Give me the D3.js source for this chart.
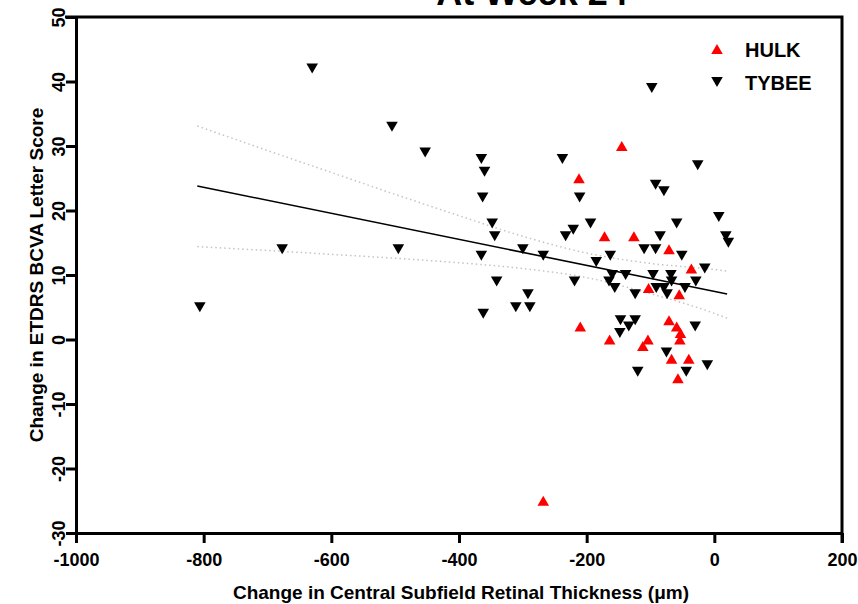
<!DOCTYPE html>
<html>
<head>
<meta charset="utf-8">
<script src="https://cdn.jsdelivr.net/npm/d3@7"></script>
<style>
  body { margin: 0; background: #fff; }
  text { font-family: "Liberation Sans", Arial, sans-serif; font-weight: bold; }
</style>
</head>
<body>
<div id="chart"></div>
<script>
// HULK points (change in CST, change in BCVA)
const hulkX = [-145, -212, -172, -126, -71, -36, -103, -55, -71, -210, -59, -53, -164, -104, -54, -112, -67, -40, -57, -268];
const hulkY = [30, 25, 16, 16, 14, 11, 8, 7, 3, 2, 2, 1, 0, 0, 0, -1, -3, -3, -6, -25];

// TYBEE points
const tybeeX = [-806, -677, -630, -505, -495, -453, -365, -360, -363, -348, -344, -365, -362, -341, -300, -292, -311, -289,
  -268, -238, -233, -221, -211, -219, -194, -185, -163, -160, -165, -156, -147, -148, -139, -134, -124, -124, -120,
  -110, -98, -96, -92, -92, -91, -85, -79, -79, -75, -74, -68, -67, -59, -51, -46, -44, -29, -30, -26, -15, -11, 7, 18, 22];
const tybeeY = [5, 14, 42, 33, 14, 29, 28, 26, 22, 18, 16, 13, 4, 9, 14, 7, 5, 5,
  13, 28, 16, 17, 22, 9, 18, 12, 13, 10, 9, 8, 3, 1, 10, 2, 7, 3, -5,
  14, 39, 10, 24, 14, 8, 16, 23, 8, -2, 7, 10, 9, 18, 13, 8, -5, 9, 2, 27, 11, -4, 19, 16, 15];

// regression line and 95% band
const fitX = [-810, 20];
const fitY = [23.8, 7.05];
const bandX = [-810, -700, -600, -500, -400, -300, -200, -100, 0, 20];
const bandUpper = [33.1, 29.3, 25.9, 22.5, 19.2, 16.0, 13.4, 11.8, 10.85, 10.6];
const bandLower = [14.4, 13.8, 13.2, 12.6, 11.9, 11.0, 9.6, 7.1, 4.05, 3.3];

const xTicks = [-1000, -800, -600, -400, -200, 0, 200];
const yTicks = [-30, -20, -10, 0, 10, 20, 30, 40, 50];

const width = 858;
const height = 604;

const svg = d3.select('#chart')
  .append('svg')
  .attr('width', width)
  .attr('height', height);

const x = d3.scaleLinear().domain([-1000, 200]).range([76, 842]);
const y = d3.scaleLinear().domain([-30, 50]).range([533, 17]);

// title (mostly off the top edge, as in the original)
svg.append('text')
  .attr('x', 532)
  .attr('y', 5)
  .attr('text-anchor', 'middle')
  .attr('font-size', 36)
  .text('At Week 24');

// confidence band
const bandLine = d3.line().x(d => x(d[0])).y(d => y(d[1])).curve(d3.curveMonotoneX);
[bandUpper, bandLower].forEach(vals => {
  svg.append('path')
    .attr('d', bandLine(bandX.map((v, i) => [v, vals[i]])))
    .attr('fill', 'none')
    .attr('stroke', '#c4c4c4')
    .attr('stroke-width', 1.5)
    .attr('stroke-dasharray', '1.5,3');
});

// fit line
svg.append('path')
  .attr('d', d3.line().x(d => x(d[0])).y(d => y(d[1]))(fitX.map((v, i) => [v, fitY[i]])))
  .attr('fill', 'none')
  .attr('stroke', '#000')
  .attr('stroke-width', 1.6);

// points
const symSize = 58;
const triH = Math.sqrt(4 * symSize / Math.sqrt(3)) * Math.sqrt(3) / 2;
const upTri = d3.symbol(d3.symbolTriangle, symSize);

svg.append('g')
  .selectAll('path')
  .data(tybeeX.map((v, i) => [v, tybeeY[i]]))
  .join('path')
  .attr('d', upTri)
  .attr('transform', d => `translate(${x(d[0])},${y(d[1]) - triH / 6}) rotate(180)`)
  .attr('fill', '#000');

svg.append('g')
  .selectAll('path')
  .data(hulkX.map((v, i) => [v, hulkY[i]]))
  .join('path')
  .attr('d', upTri)
  .attr('transform', d => `translate(${x(d[0])},${y(d[1]) + triH / 6})`)
  .attr('fill', '#ff0000');

// axes
function yAxis(g) {
  g.attr('transform', `translate(${x(-1000)},0)`)
    .call(d3.axisLeft(y).tickValues(yTicks).tickFormat(d => String(d)).tickSize(10).tickSizeOuter(0))
    .call(g => g.select('.domain').attr('stroke-width', 3))
    .call(g => g.selectAll('.tick line').attr('stroke-width', 3))
    .call(g => g.selectAll('.tick text')
      .attr('font-size', 18)
      .attr('font-family', '"Liberation Sans", Arial, sans-serif')
      .attr('font-weight', 'bold')
      .attr('fill', '#000')
      .attr('transform', 'rotate(-90)')
      .attr('x', 0)
      .attr('y', -11)
      .attr('dy', 0)
      .attr('text-anchor', 'middle'));
}
function xAxis(g) {
  g.attr('transform', `translate(0,${y(-30)})`)
    .call(d3.axisBottom(x).tickValues(xTicks).tickFormat(d => String(d)).tickSize(10).tickSizeOuter(0))
    .call(g => g.select('.domain').attr('stroke-width', 3))
    .call(g => g.selectAll('.tick line').attr('stroke-width', 3))
    .call(g => g.selectAll('.tick text')
      .attr('font-size', 18)
      .attr('font-family', '"Liberation Sans", Arial, sans-serif')
      .attr('font-weight', 'bold')
      .attr('fill', '#000')
      .attr('y', 33)
      .attr('dy', 0));
}
svg.append('g').call(xAxis);
svg.append('g').call(yAxis);

// frame top and right
svg.append('path')
  .attr('d', `M${x(-1000) - 11},${y(50)}H${x(200)}V${y(-30) + 10}`)
  .attr('fill', 'none')
  .attr('stroke', '#000')
  .attr('stroke-width', 3);

// axis titles
svg.append('text')
  .attr('transform', `translate(43,${(y(-30) + y(50)) / 2}) rotate(-90)`)
  .attr('text-anchor', 'middle')
  .attr('font-size', 19)
  .text('Change in ETDRS BCVA Letter Score');

svg.append('text')
  .attr('x', (x(-1000) + x(200)) / 2 + 2)
  .attr('y', 599)
  .attr('text-anchor', 'middle')
  .attr('font-size', 19)
  .text('Change in Central Subfield Retinal Thickness (μm)');

// legend
const legend = svg.append('g');
legend.append('path')
  .attr('d', upTri)
  .attr('transform', `translate(717,${49 + triH / 6})`)
  .attr('fill', '#ff0000');
legend.append('path')
  .attr('d', upTri)
  .attr('transform', `translate(717,${82 - triH / 6}) rotate(180)`)
  .attr('fill', '#000');
legend.append('text').attr('x', 745).attr('y', 57).attr('font-size', 20).text('HULK');
legend.append('text').attr('x', 745).attr('y', 90).attr('font-size', 20).text('TYBEE');
</script>
</body>
</html>
